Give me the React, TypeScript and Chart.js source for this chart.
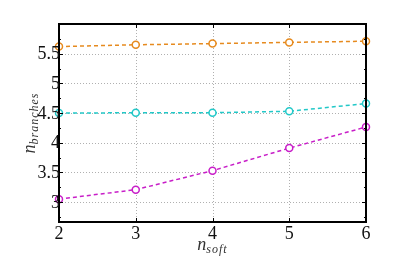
import React, { useEffect, useRef } from "react";
import { Chart, registerables } from "chart.js";

Chart.register(...registerables);

const nSoft = [2, 3, 4, 5, 6];
const orangeSeries = [5.62, 5.65, 5.67, 5.69, 5.71];
const cyanSeries = [4.5, 4.505, 4.505, 4.53, 4.66];
const magentaSeries = [3.05, 3.21, 3.53, 3.91, 4.265];
const xTicks = [2, 3, 4, 5, 6];
const yTicks = [3, 3.5, 4, 4.5, 5, 5.5];
const yMinorTicks = [2.75, 3.25, 3.75, 4.25, 4.75, 5.25, 5.75];
const yMin = 2.665;
const yMax = 6.0;

const SERIF = '"Liberation Serif"';

const axesPlugin = {
  id: "matlabAxes",
  beforeDatasetsDraw(chart: any) {
    const { ctx, chartArea: a, scales } = chart;
    const x = scales.x, y = scales.y;
    ctx.save();
    ctx.strokeStyle = "#b0b0b0";
    ctx.lineWidth = 1;
    ctx.setLineDash([1, 2]);
    for (const v of xTicks) {
      const px = Math.round(x.getPixelForValue(v)) + 0.5;
      ctx.beginPath();
      ctx.moveTo(px, a.top);
      ctx.lineTo(px, a.bottom);
      ctx.stroke();
    }
    for (const v of yTicks) {
      const py = Math.round(y.getPixelForValue(v)) + 0.5;
      ctx.beginPath();
      ctx.moveTo(a.left, py);
      ctx.lineTo(a.right, py);
      ctx.stroke();
    }
    ctx.restore();
  },
  afterDatasetsDraw(chart: any) {
    const { ctx, chartArea: a, scales } = chart;
    const x = scales.x, y = scales.y;
    ctx.save();
    ctx.setLineDash([]);
    ctx.strokeStyle = "#000";
    ctx.lineWidth = 1;
    for (const v of yTicks) {
      const py = Math.round(y.getPixelForValue(v)) + 0.5;
      ctx.beginPath();
      ctx.moveTo(a.left, py); ctx.lineTo(a.left + 4, py);
      ctx.moveTo(a.right, py); ctx.lineTo(a.right - 4, py);
      ctx.stroke();
    }
    for (const v of yMinorTicks) {
      const py = Math.round(y.getPixelForValue(v)) + 0.5;
      ctx.beginPath();
      ctx.moveTo(a.left, py); ctx.lineTo(a.left + 2, py);
      ctx.moveTo(a.right, py); ctx.lineTo(a.right - 2, py);
      ctx.stroke();
    }
    for (const v of xTicks) {
      const px = Math.round(x.getPixelForValue(v)) + 0.5;
      ctx.beginPath();
      ctx.moveTo(px, a.bottom); ctx.lineTo(px, a.bottom - 4);
      ctx.moveTo(px, a.top); ctx.lineTo(px, a.top + 4);
      ctx.stroke();
    }
    ctx.lineWidth = 2;
    ctx.strokeRect(a.left, a.top, a.right - a.left, a.bottom - a.top);
    ctx.fillStyle = "#111";
    ctx.font = "18px " + SERIF;
    ctx.textAlign = "right";
    ctx.textBaseline = "middle";
    for (const v of yTicks) {
      ctx.fillText(String(v), a.left + 1, y.getPixelForValue(v) + 1);
    }
    ctx.textAlign = "center";
    ctx.textBaseline = "top";
    for (const v of xTicks) {
      ctx.fillText(String(v), x.getPixelForValue(v), a.bottom + 3);
    }
    const drawSub = (main: string, sub: string, cx: number, cy: number, rot: number) => {
      ctx.save();
      ctx.translate(cx, cy);
      ctx.rotate(rot);
      ctx.font = "italic 18px " + SERIF;
      const w1 = ctx.measureText(main).width;
      ctx.font = "italic 12px " + SERIF;
      const w2 = ctx.measureText(sub).width + sub.length;
      const start = -(w1 + w2) / 2;
      ctx.textAlign = "left";
      ctx.textBaseline = "alphabetic";
      ctx.font = "italic 18px " + SERIF;
      ctx.fillStyle = "#333";
      ctx.fillText(main, start, 4);
      ctx.font = "italic 12px " + SERIF;
      let px = start + w1;
      for (const ch of sub) {
        ctx.fillText(ch, px, 7);
        px += ctx.measureText(ch).width + 1;
      }
      ctx.restore();
    };
    drawSub("n", "soft", (a.left + a.right) / 2, 246, 0);
    drawSub("n", "branches", 31, (a.top + a.bottom) / 2, -Math.PI / 2);
    ctx.restore();
  },
};

function mkDataset(data: number[], color: string) {
  return {
    data: nSoft.map((v, i) => ({ x: v, y: data[i] })),
    borderColor: color,
    backgroundColor: "#ffffff",
    pointBorderColor: color,
    pointBackgroundColor: "#ffffff",
    pointRadius: 3.5,
    pointBorderWidth: 1.5,
    borderWidth: 1.5,
    borderDash: [4, 3],
    fill: false,
    tension: 0,
    clip: false as any,
  };
}

export default function App() {
  const ref = useRef<HTMLCanvasElement>(null);
  useEffect(() => {
    const chart = new Chart(ref.current!, {
      type: "line",
      data: {
        datasets: [
          mkDataset(orangeSeries, "#e68a1e"),
          mkDataset(cyanSeries, "#22c8c8"),
          mkDataset(magentaSeries, "#c81ec8"),
        ],
      },
      options: {
        animation: false,
        responsive: false,
        maintainAspectRatio: false,
        events: [],
        layout: { padding: { left: 0, top: 24, right: 49, bottom: 0 } },
        plugins: { legend: { display: false }, tooltip: { enabled: false } },
        scales: {
          x: {
            type: "linear",
            min: 2,
            max: 6,
            ticks: { display: false },
            grid: { display: false },
            border: { display: false },
            afterFit: (s: any) => { s.height = 55; },
          },
          y: {
            type: "linear",
            min: yMin,
            max: yMax,
            ticks: { display: false },
            grid: { display: false },
            border: { display: false },
            afterFit: (s: any) => { s.width = 59; },
          },
        },
      },
      plugins: [axesPlugin],
    });
    let alive = true;
    const redraw = () => { if (alive) chart.update(); };
    const fonts = (document as any).fonts;
    if (fonts) {
      fonts.load("18px " + SERIF).then(redraw).catch(() => {});
      fonts.load("italic 18px " + SERIF).then(redraw).catch(() => {});
    }
    const t1 = setTimeout(redraw, 50);
    return () => { alive = false; clearTimeout(t1); chart.destroy(); };
  }, []);
  return (
    <div style={{ position: "fixed", left: 0, top: 0, width: 415, height: 277, background: "#fff" }}>
      <span style={{ position: "absolute", left: 0, top: 0, fontFamily: SERIF, fontSize: 18, color: "transparent" }}>0<i>n</i></span>
      <canvas ref={ref} width={415} height={277} style={{ position: "absolute", left: 0, top: 0, width: 415, height: 277 }} />
    </div>
  );
}
